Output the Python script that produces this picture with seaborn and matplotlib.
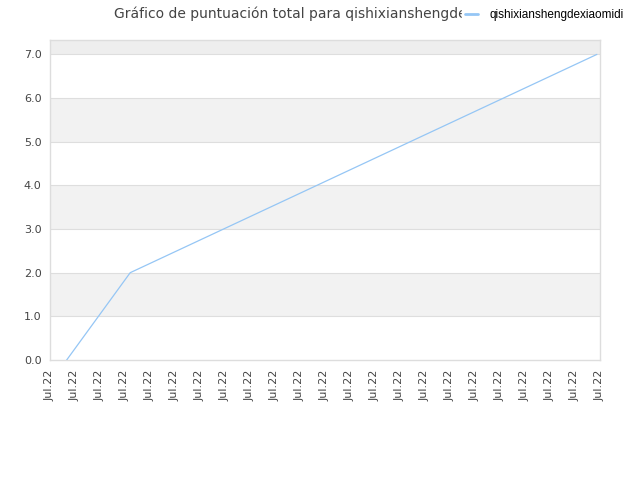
import matplotlib
matplotlib.use('Agg')
import matplotlib.pyplot as plt
import matplotlib.dates as mdates
import seaborn as sns
import pandas as pd

# Datos del gráfico
fechas = ['2022-07-01 16:00', '2022-07-04 05:00', '2022-07-22 21:00']
puntuacion = [0.0, 2.0, 7.0]
jugador = 'qishixianshengdexiaomidi'
titulo = 'Gráfico de puntuación total para qishixianshengdexiaomidi'
rango_x = ['2022-07-01', '2022-07-23']
y_max = 7.33

df = pd.DataFrame({'fecha': pd.to_datetime(fechas), 'puntos': puntuacion, 'jugador': jugador})

sns.set_style('white')
plt.rcParams['font.family'] = ['DejaVu Sans']

fig = plt.figure(figsize=(6.4, 4.8), dpi=100)
ax = fig.add_axes([50 / 640, 120 / 480, 550 / 640, 320 / 480])

# bandas alternas
for i in range(0, 8):
    if i % 2 == 1:
        col = '#eeeeee' if i == 7 else '#f2f2f2'
        ax.axhspan(i, min(i + 1, y_max), color=col, zorder=0, lw=0)
for i in range(1, 8):
    ax.axhline(i, color='#dedede', lw=0.8, zorder=1)

sns.lineplot(data=df, x='fecha', y='puntos', hue='jugador', palette=['#95c6f5'],
             linewidth=0.9, ax=ax, legend=False, zorder=3)

ax.set_xlim(pd.to_datetime(rango_x[0]), pd.to_datetime(rango_x[1]))
ax.set_ylim(0, y_max)
ax.set_yticks(range(0, 8))
ax.yaxis.set_major_formatter(matplotlib.ticker.FormatStrFormatter('%.1f'))
ax.xaxis.set_major_locator(mdates.DayLocator())
ax.xaxis.set_major_formatter(mdates.DateFormatter('%b.%y'))
ax.tick_params(axis='x', rotation=90, labelsize=8, colors='#444444', length=0, pad=7)
ax.tick_params(axis='y', labelsize=8, colors='#444444', length=0, pad=6)
ax.set_xlabel('')
ax.set_ylabel('')
for s in ax.spines.values():
    s.set_color('#dddddd')
    s.set_linewidth(1.0)

fig.text(0.5, 0.972, titulo, ha='center', va='center', fontsize=10, color='#444444')

handle = plt.Line2D([], [], color='#95c6f5', lw=2)
leg = fig.legend([handle], [jugador], loc='center left', bbox_to_anchor=(456 / 640, 1 - 15 / 480),
                 frameon=True, handlelength=1.1, handletextpad=0.9,
                 borderpad=0.3, prop={'family': 'Liberation Sans', 'size': 8.5})
leg.get_frame().set_facecolor('white')
leg.get_frame().set_edgecolor('white')
leg.get_frame().set_alpha(1)
for t in leg.get_texts():
    t.set_color('black')
leg.set_zorder(10)

fig.savefig('out.png', dpi=100)
